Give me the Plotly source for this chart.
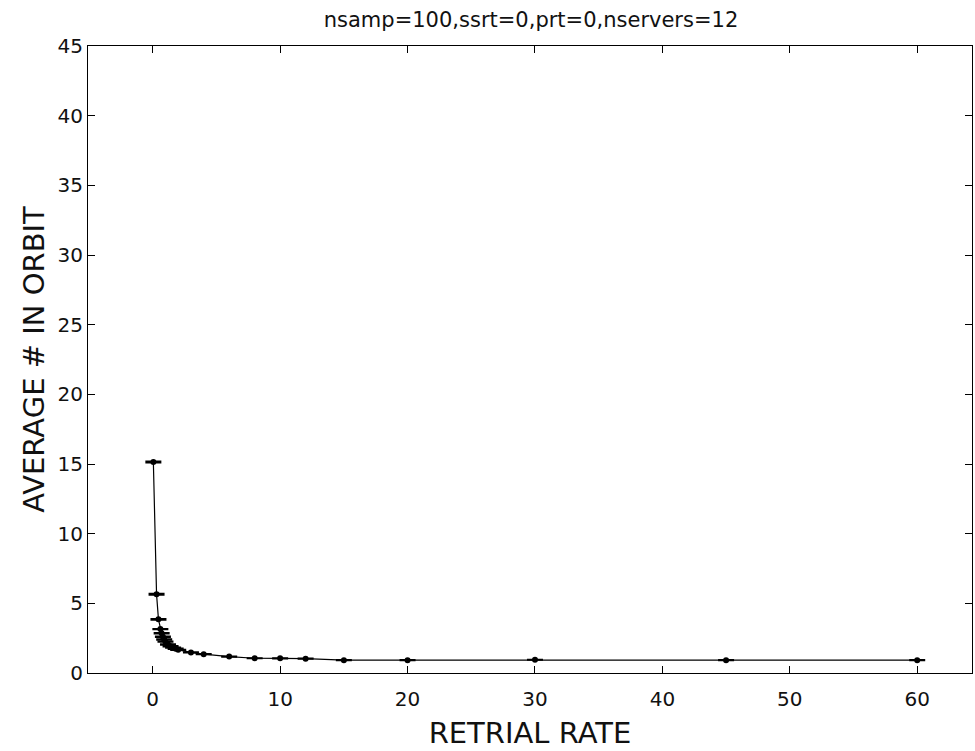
import plotly.graph_objects as go

# Data
retrial_rate = [0.05, 0.3, 0.45, 0.6, 0.7, 0.8, 0.9, 1.0, 1.2, 1.4, 1.6, 1.8, 2.0,
                3, 4, 6, 8, 10, 12, 15, 20, 30, 45, 60]
avg_in_orbit = [15.15, 5.65, 3.85, 3.15, 2.85, 2.6, 2.4, 2.25, 2.05, 1.92, 1.82, 1.74, 1.66,
                1.48, 1.35, 1.18, 1.06, 1.05, 1.03, 0.92, 0.92, 0.95, 0.92, 0.92]
err = [0.05, 0.05, 0.04, 0.03, 0.03, 0.03, 0.03, 0.03, 0.03, 0.03, 0.03, 0.03, 0.03,
       0.02, 0.02, 0.02, 0.02, 0.02, 0.02, 0.02, 0.02, 0.02, 0.02, 0.02]

x_ticks = [0, 10, 20, 30, 40, 50, 60]
y_ticks = [0, 5, 10, 15, 20, 25, 30, 35, 40, 45]

title_text = "nsamp=100,ssrt=0,prt=0,nservers=12"
x_label = "RETRIAL RATE"
y_label = "AVERAGE # IN ORBIT"

FONT = "DejaVu Sans"

fig = go.Figure()
fig.add_trace(go.Scatter(
    x=retrial_rate, y=avg_in_orbit,
    mode="lines+markers",
    line=dict(color="black", width=1.2),
    marker=dict(color="black", size=6, symbol="circle"),
    error_y=dict(type="data", array=err, visible=True, color="black",
                 thickness=1.6, width=8),
    showlegend=False,
))

fig.update_layout(
    width=975, height=751,
    margin=dict(l=88, r=3, t=46, b=78),
    paper_bgcolor="white", plot_bgcolor="white",
    font=dict(family=FONT, color="black"),
    title=dict(text=title_text, x=531 / 975, xanchor="center",
               y=1 - 20 / 751, yanchor="middle", yref="container",
               font=dict(family=FONT, size=21, color="#111")),
)
fig.update_xaxes(
    range=[-5.08, 64.3], tickvals=x_ticks, ticktext=[str(v) for v in x_ticks],
    ticks="inside", ticklen=7, tickwidth=1, tickcolor="black",
    showline=True, linecolor="black", linewidth=1, mirror="ticks",
    showgrid=False, zeroline=False, ticklabelstandoff=8,
    tickfont=dict(family=FONT, size=20, color="#111"),
    title=dict(text=x_label, font=dict(family=FONT, size=29, color="#111"), standoff=12),
)
fig.update_yaxes(
    range=[0, 45], tickvals=y_ticks, ticktext=[str(v) for v in y_ticks],
    ticks="inside", ticklen=7, tickwidth=1, tickcolor="black",
    showline=True, linecolor="black", linewidth=1, mirror="ticks",
    showgrid=False, zeroline=False,
    tickfont=dict(family=FONT, size=20, color="#111"),
    title=dict(text=y_label, font=dict(family=FONT, size=29, color="#111"), standoff=4),
)

fig.write_html("out.html")
